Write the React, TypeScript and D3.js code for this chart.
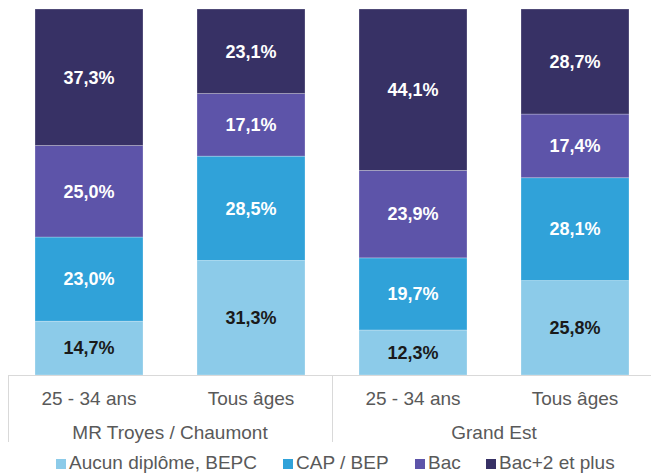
import React from 'react';
import * as d3 from 'd3';

const groups = ['MR Troyes / Chaumont', 'Grand Est'];
const ages = ['25 - 34 ans', 'Tous âges', '25 - 34 ans', 'Tous âges'];
const series = ['Aucun diplôme, BEPC', 'CAP / BEP', 'Bac', 'Bac+2 et plus'];
const aucun = [14.7, 31.3, 12.3, 25.8];
const cap = [23.0, 28.5, 19.7, 28.1];
const bac = [25.0, 17.1, 23.9, 17.4];
const bac2 = [37.3, 23.1, 44.1, 28.7];

const colors = ['#8ccbe9', '#30a2d9', '#5d54a9', '#373165'];
const textColors = ['#1a1a1a', '#ffffff', '#ffffff', '#ffffff'];

const W = 651;
const H = 474;

const App = () => {
  const margin = { top: 9, bottom: 375, left: 8, right: 656 };
  const idx = ages.map((_, i) => i);

  const x = d3.scaleBand<number>()
    .domain(idx)
    .range([margin.left, margin.right])
    .paddingInner(1 / 3)
    .paddingOuter(1 / 6);
  const y = d3.scaleLinear().domain([0, 100]).range([margin.bottom, margin.top]);

  const rows = idx.map(i => ({ a: aucun[i], c: cap[i], b: bac[i], p: bac2[i] }));
  const stack = d3.stack<any>().keys(['a', 'c', 'b', 'p'])(rows);

  const groupW = x.step() * 2;
  const fmt = (v: number) => v.toFixed(1).replace('.', ',') + '%';

  // legend positions
  const legendX = [56, 283, 415, 486];

  return (
    <svg width={W} height={H} style={{ position: 'absolute', left: 0, top: 0, fontFamily: '"Liberation Sans", Arial, sans-serif' }}>
      <rect width={W} height={H} fill="#fff" />
      {stack.map((layer, si) => (
        <g key={si}>
          {layer.map((d, i) => (
            <rect
              key={i}
              x={x(i)}
              y={y(d[1])}
              width={x.bandwidth()}
              height={y(d[0]) - y(d[1])}
              fill={colors[si]}
              stroke="#ffffff"
              strokeOpacity={0.35}
              strokeWidth={0.75}
            />
          ))}
          {layer.map((d, i) => (
            <text
              key={'t' + i}
              x={(x(i) as number) + x.bandwidth() / 2}
              y={(y(d[0]) + y(d[1])) / 2}
              dy="0.35em"
              textAnchor="middle"
              fontSize={18}
              fontWeight="bold"
              fill={textColors[si]}
            >
              {fmt(d[1] - d[0])}
            </text>
          ))}
        </g>
      ))}

      {/* category axis */}
      <line x1={margin.left} x2={W} y1={margin.bottom + 0.5} y2={margin.bottom + 0.5} stroke="#d9d9d9" />
      {[0, 1, 2].map(k => {
        const xx = Math.round(margin.left + k * groupW) + 0.5;
        return <line key={k} x1={xx} x2={xx} y1={margin.bottom} y2={442} stroke="#d9d9d9" />;
      })}
      {ages.map((a, i) => (
        <text key={i} x={(x(i) as number) + x.bandwidth() / 2} y={398} dy="0.35em" textAnchor="middle" fontSize={19} fill="#595959">
          {a}
        </text>
      ))}
      {groups.map((g, k) => (
        <text key={k} x={margin.left + k * groupW + groupW / 2} y={432} dy="0.35em" textAnchor="middle" fontSize={19} fill="#595959">
          {g}
        </text>
      ))}

      {/* legend */}
      {series.map((s, i) => (
        <g key={i} transform={`translate(${legendX[i]},${469})`}>
          <rect x={0} y={-10} width={10} height={10} fill={colors[i]} />
          <text x={13} y={0} fontSize={19} fill="#595959">{s}</text>
        </g>
      ))}
    </svg>
  );
};

export default App;
